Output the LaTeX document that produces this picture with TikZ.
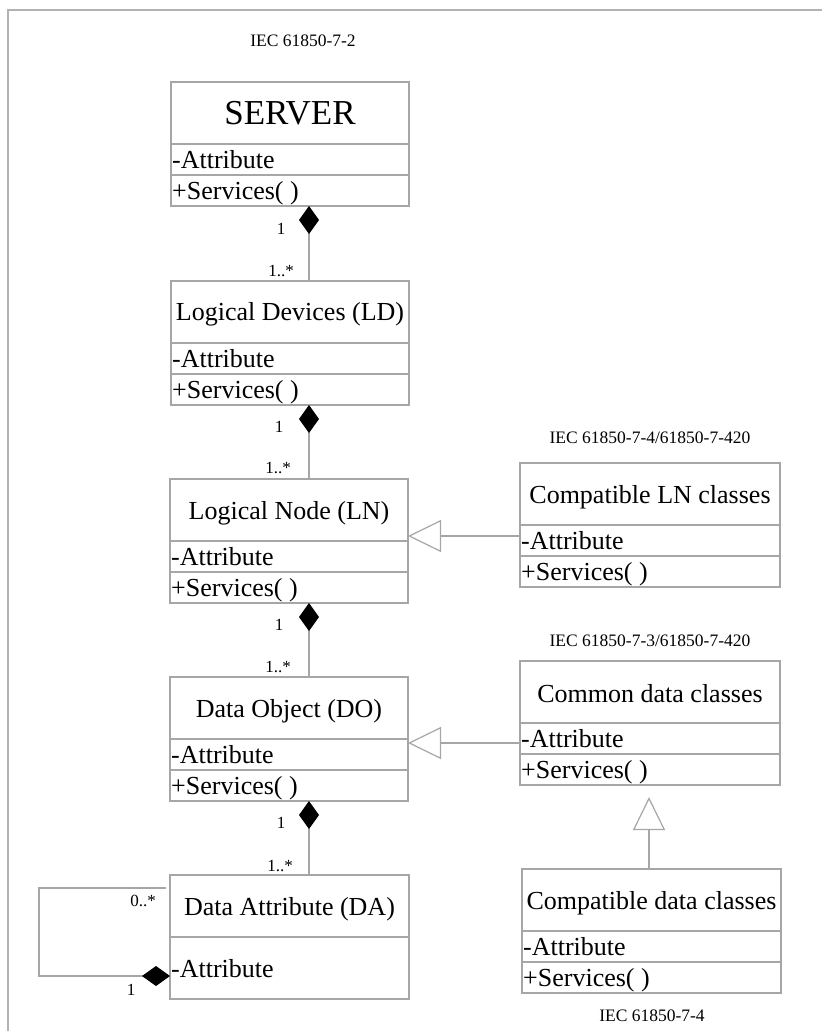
\documentclass[tikz,border=0pt]{standalone}
\usepackage{fontspec}
\setmainfont{Liberation Serif}
\usetikzlibrary{arrows.meta,calc}

\tikzset{
  classbox/.style={draw=black!35, line width=1.2pt, inner sep=0pt, outer sep=0pt},
  boxline/.style={draw=black!35, line width=1.2pt},
  member/.style={font=\fontsize{26}{28}\selectfont, inner sep=0pt},
  mult/.style={font=\fontsize{17}{19}\selectfont, inner sep=0pt},
  stdlabel/.style={font=\fontsize{17.5}{20}\selectfont, inner sep=0pt},
  compo/.style={draw=black!35, line width=1.2pt,
    -{Diamond[length=28pt,width=20pt,color=black,fill=black]}},
  gener/.style={draw=black!35, line width=1.2pt,
    -{Triangle[open,length=33pt,width=32pt]}},
  frameline/.style={draw=black!30, line width=2pt},
}

% UML class with name, attribute and operation compartments
% #1 name, #2 left, #3 top, #4 width, #5 title size, #6 title baseline offset, #7 title
\newcommand\umlclass[7]{%
  \node[classbox, minimum width=#4pt, minimum height=124pt, anchor=north west] (#1) at (#2,#3) {};
  \draw[boxline] ([yshift=-62pt]#1.north west) -- ([yshift=-62pt]#1.north east);
  \draw[boxline] ([yshift=-93pt]#1.north west) -- ([yshift=-93pt]#1.north east);
  \node[anchor=base, inner sep=0pt, font=\fontsize{#5}{#5}\selectfont] (#1-title) at ([yshift=-#6pt]#1.north) {#7};
  \node[member, anchor=base west] (#1-attr) at ([xshift=1pt,yshift=-86pt]#1.north west) {-Attribute};
  \node[member, anchor=base west] (#1-serv) at ([xshift=1pt,yshift=-117pt]#1.north west) {+Services( )};
}

\begin{document}
\begin{tikzpicture}[x=1pt,y=-1pt]
\useasboundingbox (0,0) rectangle (822,1031);
\draw[frameline] (8,1031) -- (8,10) -- (822,10);

% standard references
\node[stdlabel, anchor=base] (std72) at (303,46) {IEC 61850-7-2};
\node[stdlabel, anchor=base] (std74a) at (650,443) {IEC 61850-7-4/61850-7-420};
\node[stdlabel, anchor=base] (std73) at (650,646) {IEC 61850-7-3/61850-7-420};
\node[stdlabel, anchor=base] (std74b) at (652,1021) {IEC 61850-7-4};

% main hierarchy
\umlclass{server}{171}{82}{238}{35}{42}{SERVER}
\umlclass{ld}{171}{281}{238}{26}{39}{Logical Devices (LD)}
\umlclass{ln}{170}{479}{238}{26}{40}{Logical Node (LN)}
\umlclass{do}{170}{677}{238}{26}{40}{Data Object (DO)}

% data attribute class (two compartments)
\node[classbox, minimum width=239pt, minimum height=124pt, anchor=north west] (da) at (170,875) {};
\draw[boxline] ([yshift=-62pt]da.north west) -- ([yshift=-62pt]da.north east);
\node[member, anchor=base] (da-title) at ([yshift=-40pt]da.north) {Data Attribute (DA)};
\node[member, anchor=base west] (da-attr) at ([xshift=1pt,yshift=-102pt]da.north west) {-Attribute};

% related classes
\umlclass{cln}{520}{463}{260}{26}{40}{Compatible LN classes}
\umlclass{cdc}{520}{661}{260}{26}{41}{Common data classes}
\umlclass{cdata}{522}{869}{259}{26}{40}{Compatible data classes}

% compositions
\coordinate (cx) at (309,0);
\draw[compo] (ld.north -| cx) -- (server.south -| cx);
\draw[compo] (ln.north -| cx) -- (ld.south -| cx);
\draw[compo] (do.north -| cx) -- (ln.south -| cx);
\draw[compo] (da.north -| cx) -- (do.south -| cx);

% multiplicities
\node[mult, anchor=base] (m1) at (281,234) {1};
\node[mult, anchor=base] (m2) at (281,276) {1..*};
\node[mult, anchor=base] (m3) at (279,432) {1};
\node[mult, anchor=base] (m4) at (278,473) {1..*};
\node[mult, anchor=base] (m5) at (279,630) {1};
\node[mult, anchor=base] (m6) at (278,672) {1..*};
\node[mult, anchor=base] (m7) at (281,828) {1};
\node[mult, anchor=base] (m8) at (280,871) {1..*};

% recursive composition of data attributes
\coordinate (loopend) at (166,888);
\coordinate (loopa) at (39,888);
\coordinate (loopb) at (39,976);
\draw[compo] (loopend) -- (loopa) -- (loopb) -- (da.west |- loopb);
\node[mult, anchor=base] (m9) at (143,906) {0..*};
\node[mult, anchor=base] (m10) at (131,995) {1};

% generalizations
\coordinate (ya) at (0,536);
\coordinate (yb) at (0,743);
\draw[gener] (cln.west |- ya) -- (ln.east |- ya);
\draw[gener] (cdc.west |- yb) -- (do.east |- yb);
\coordinate (gx) at (649,0);
\path (cdc.south -| gx) ++(0,12) coordinate (gtip);
\draw[gener] (cdata.north -| gx) -- (gtip);
\end{tikzpicture}
\end{document}
